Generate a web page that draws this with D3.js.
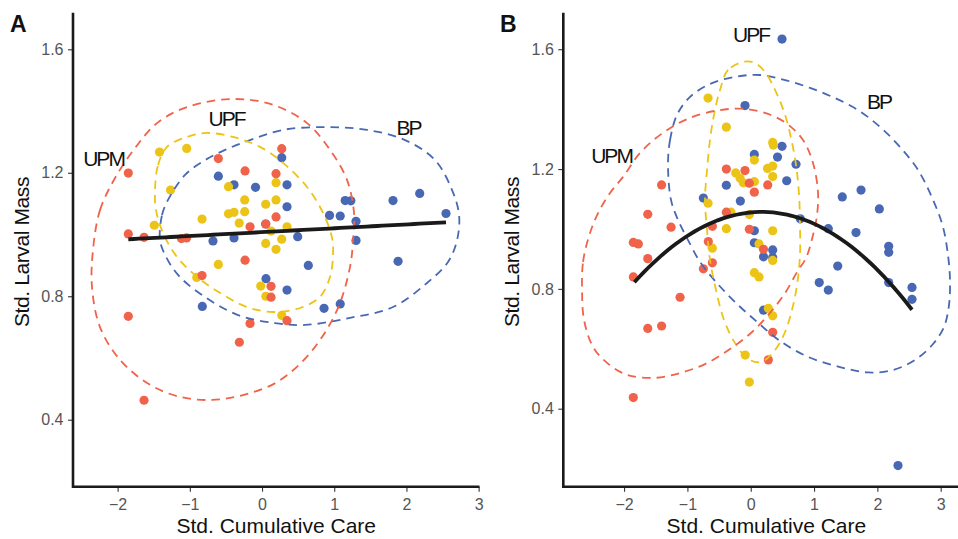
<!DOCTYPE html>
<html><head><meta charset="utf-8">
<script src="https://cdn.jsdelivr.net/npm/d3@7"></script>
<style>body{margin:0;background:#fff}svg{display:block}</style>
</head><body><svg id="c" width="958" height="539"></svg>
<script>
// ---------- data ----------
const groups = ["BP", "UPF", "UPM"];
const groupColors = { BP: "#4968B4", UPF: "#ECC417", UPM: "#F0634A" };
const xTicks = [-2, -1, 0, 1, 2, 3];
const yTicks = [0.4, 0.8, 1.2, 1.6];
const xTitle = "Std. Cumulative Care";
const yTitle = "Std. Larval Mass";

// Panel A points [care, mass]
const aUPM = [[-1.852,1.199],[-0.605,1.246],[0.273,1.278],[-0.235,1.206],[0.194,1.197],[0.194,1.057],[-0.166,1.025],[0.051,1.034],[-1.852,1.002],[-1.634,0.991],[-1.115,0.987],[-1.046,0.989],[-0.235,0.917],[-0.831,0.867],[0.125,0.832],[0.125,0.797],[-1.852,0.735],[-0.166,0.712],[0.346,0.721],[-0.314,0.651],[-1.634,0.463]];
const aUPF = [[-1.420,1.267],[-1.043,1.279],[-1.267,1.144],[-0.464,1.155],[0.194,1.168],[-0.240,1.112],[0.051,1.098],[0.194,1.112],[-0.464,1.067],[-0.388,1.072],[-0.240,1.074],[-0.831,1.050],[-0.316,1.037],[-1.492,1.030],[0.346,1.025],[0.125,1.011],[0.273,0.985],[0.051,0.971],[0.194,0.952],[-0.605,0.903],[-0.904,0.861],[-0.018,0.833],[0.053,0.800],[0.274,0.738]];
const aBP = [[0.273,1.249],[-0.605,1.189],[-0.388,1.161],[-0.090,1.153],[0.346,1.161],[0.346,1.090],[0.051,1.034],[0.935,1.062],[1.083,1.060],[1.152,1.110],[1.230,1.109],[1.302,1.043],[1.302,0.981],[1.814,1.110],[2.184,1.133],[2.548,1.068],[-0.679,0.979],[-0.388,0.989],[0.494,0.993],[0.641,0.900],[1.884,0.913],[0.055,0.857],[0.346,0.820],[-0.827,0.767],[0.859,0.761],[1.083,0.775]];
const aFit = [1.0077, 0.0125];          // intercept, slope
const aFitRange = [-1.852, 2.548];

// Panel A group ellipse outlines [care, mass]
const aEllUPM = [[-2.341,0.950],[-2.244,1.079],[-2.036,1.183],[-1.759,1.280],[-1.454,1.361],[-1.039,1.413],[-0.402,1.439],[0.152,1.420],[0.623,1.361],[0.942,1.274],[1.177,1.177],[1.274,1.070],[1.260,0.982],[1.219,0.895],[1.039,0.755],[0.665,0.616],[0.208,0.522],[-0.263,0.480],[-0.693,0.464],[-1.136,0.474],[-1.551,0.513],[-1.967,0.594],[-2.244,0.700],[-2.355,0.830]];
const aEllUPF = [[-1.482,1.144],[-1.440,1.225],[-1.316,1.284],[-1.039,1.316],[-0.762,1.329],[-0.402,1.316],[-0.028,1.284],[0.291,1.232],[0.623,1.154],[0.845,1.070],[0.970,0.989],[0.983,0.934],[0.942,0.863],[0.803,0.798],[0.526,0.762],[0.152,0.749],[-0.208,0.765],[-0.582,0.811],[-0.900,0.863],[-1.177,0.927],[-1.371,1.005],[-1.468,1.079]];
const aEllBP = [[-1.413,0.982],[-1.385,1.063],[-1.302,1.112],[-1.066,1.193],[-0.789,1.241],[-0.512,1.274],[-0.166,1.306],[0.291,1.339],[0.900,1.348],[1.454,1.339],[1.981,1.306],[2.396,1.241],[2.632,1.144],[2.729,1.063],[2.701,0.982],[2.576,0.911],[2.285,0.843],[1.814,0.765],[1.219,0.730],[0.596,0.707],[0.180,0.713],[-0.332,0.739],[-0.831,0.804],[-1.163,0.869],[-1.343,0.934]];
const aLabels = [["UPM",-2.195,1.248],["UPF",-0.492,1.376],["BP",2.029,1.348]];

// Panel B points [care, mass]
const bUPM = [[-0.385,1.200],[-0.090,1.195],[-0.022,1.153],[0.057,1.123],[0.268,1.147],[-1.408,1.147],[-1.626,1.049],[-1.258,1.006],[-0.385,1.056],[-0.606,1.009],[-0.022,0.999],[-1.854,0.955],[-1.775,0.950],[-0.670,0.958],[0.202,0.932],[-1.626,0.901],[-0.606,0.887],[-0.748,0.867],[-1.854,0.840],[-1.116,0.772],[-1.626,0.668],[-1.408,0.676],[0.347,0.655],[0.278,0.563],[-1.854,0.437]];
const bUPF = [[-0.674,1.437],[-0.385,1.340],[0.347,1.289],[0.357,1.280],[0.057,1.230],[-0.237,1.187],[-0.169,1.170],[-0.117,1.154],[0.057,1.158],[0.265,1.202],[0.347,1.210],[0.347,1.175],[-0.674,1.086],[-0.311,1.056],[-0.022,1.048],[-0.385,1.001],[0.347,0.994],[-0.606,0.936],[0.131,0.950],[0.347,0.895],[0.057,0.854],[0.131,0.840],[0.278,0.735],[0.347,0.710],[-0.087,0.579],[-0.022,0.489]];
const bBP = [[0.494,1.634],[-0.090,1.412],[0.494,1.276],[0.057,1.249],[0.423,1.240],[0.715,1.216],[0.568,1.161],[-0.385,1.146],[-0.748,1.103],[-0.164,1.093],[0.783,1.034],[1.446,1.107],[1.742,1.130],[2.031,1.067],[1.225,1.001],[1.663,0.988],[0.057,0.994],[0.057,0.954],[0.202,0.907],[0.347,0.930],[0.347,0.905],[2.179,0.942],[2.179,0.922],[1.374,0.876],[1.082,0.821],[1.225,0.796],[2.179,0.821],[2.547,0.805],[2.547,0.765],[0.202,0.729],[2.326,0.210]];
const bFit = [1.0552, 0.0202, -0.058];  // a + b*x + c*x^2
const bFitRange = [-1.838, 2.547];

// Panel B group outlines [care, mass]
const bEllUPM = [[-2.664,0.796],[-2.648,0.890],[-2.553,0.977],[-2.411,1.053],[-2.222,1.120],[-2.016,1.174],[-1.748,1.254],[-1.385,1.321],[-0.958,1.371],[-0.485,1.397],[-0.090,1.401],[0.273,1.384],[0.573,1.351],[0.826,1.297],[0.984,1.220],[1.063,1.120],[1.047,1.047],[0.984,0.980],[0.873,0.903],[0.731,0.856],[0.542,0.786],[0.305,0.720],[0.021,0.656],[-0.327,0.599],[-0.722,0.549],[-1.116,0.519],[-1.511,0.503],[-1.953,0.513],[-2.269,0.553],[-2.490,0.606],[-2.632,0.696]];
const bEllUPF = [[-0.090,1.559],[-0.358,1.531],[-0.485,1.464],[-0.580,1.381],[-0.643,1.297],[-0.690,1.197],[-0.722,1.097],[-0.690,0.997],[-0.643,0.897],[-0.548,0.796],[-0.422,0.696],[-0.248,0.619],[-0.043,0.566],[0.163,0.556],[0.384,0.596],[0.542,0.656],[0.652,0.730],[0.731,0.813],[0.778,0.913],[0.778,1.013],[0.763,1.114],[0.715,1.214],[0.636,1.304],[0.542,1.381],[0.400,1.457],[0.226,1.524],[0.068,1.554]];
const bEllBP = [[-1.306,1.214],[-1.274,1.297],[-1.164,1.381],[-0.958,1.441],[-0.643,1.484],[-0.248,1.508],[0.147,1.514],[0.542,1.497],[0.936,1.471],[1.331,1.437],[1.695,1.397],[2.041,1.341],[2.357,1.274],[2.642,1.197],[2.879,1.097],[3.036,1.007],[3.115,0.913],[3.147,0.830],[3.131,0.746],[3.052,0.673],[2.879,0.616],[2.595,0.563],[2.247,0.529],[1.852,0.521],[1.410,0.539],[0.905,0.573],[0.463,0.626],[0.099,0.690],[-0.248,0.756],[-0.548,0.823],[-0.801,0.890],[-0.990,0.963],[-1.148,1.030],[-1.259,1.097]];
const bLabels = [["UPM",-2.198,1.247],["UPF",0.005,1.648],["BP",2.026,1.427]];

// ---------- drawing ----------
const svg = d3.select("#c");
const FONT = "'Liberation Sans', Arial, Helvetica, sans-serif";

const panels = [
  { tag: "A", ox: 0, left: 73, right: 479.5, xDom: [-2.618, 3.012], yDom: [0.183, 1.7186],
    pts: { BP: aBP, UPF: aUPF, UPM: aUPM }, ell: { BP: aEllBP, UPF: aEllUPF, UPM: aEllUPM },
    labels: aLabels, fit: x => aFit[0] + aFit[1] * x, fitRange: aFitRange },
  { tag: "B", ox: 490, left: 563.3, right: 969.5, xDom: [-2.96, 3.455], yDom: [0.1396, 1.722],
    pts: { BP: bBP, UPF: bUPF, UPM: bUPM }, ell: { BP: bEllBP, UPF: bEllUPF, UPM: bEllUPM },
    labels: bLabels, fit: x => bFit[0] + bFit[1] * x + bFit[2] * x * x, fitRange: bFitRange }
];
const plotTop = 12.7, plotBottom = 486.7;

panels.forEach(p => {
  const x = d3.scaleLinear().domain(p.xDom).range([p.left, p.right]);
  const y = d3.scaleLinear().domain(p.yDom).range([plotBottom, plotTop]);
  const g = svg.append("g");

  // axes
  const xa = g.append("g").attr("transform", `translate(0,${plotBottom})`)
    .call(d3.axisBottom(x).tickValues(xTicks).tickSize(5).tickSizeOuter(0).tickPadding(6.5).tickFormat(d3.format("d")));
  const ya = g.append("g").attr("transform", `translate(${p.left},0)`)
    .call(d3.axisLeft(y).tickValues(yTicks).tickSize(5).tickSizeOuter(0).tickPadding(4.5).tickFormat(d3.format(".1f")));
  [xa, ya].forEach(a => {
    a.select(".domain").remove();
    a.selectAll(".tick line").attr("stroke", "#333").attr("stroke-width", 1.1);
    a.selectAll(".tick text").attr("fill", "#555").style("font-family", FONT).style("font-size", "16px");
  });
  g.append("line").attr("x1", p.left).attr("x2", p.right).attr("y1", plotBottom).attr("y2", plotBottom)
    .attr("stroke", "#1a1a1a").attr("stroke-width", 2.6);
  g.append("line").attr("x1", p.left).attr("x2", p.left).attr("y1", plotTop).attr("y2", plotBottom + 1.3)
    .attr("stroke", "#1a1a1a").attr("stroke-width", 2.6);

  // points
  groups.forEach(k => {
    g.append("g").selectAll("circle").data(p.pts[k]).join("circle")
      .attr("cx", d => x(d[0])).attr("cy", d => y(d[1])).attr("r", 4.6)
      .attr("fill", groupColors[k]);
  });

  // group outlines
  const line = d3.line().x(d => x(d[0])).y(d => y(d[1])).curve(d3.curveCatmullRomClosed.alpha(0.5));
  groups.forEach(k => {
    g.append("path").attr("d", line(p.ell[k])).attr("fill", "none")
      .attr("stroke", groupColors[k]).attr("stroke-width", 1.8).attr("stroke-dasharray", "8.5,6");
  });

  // fitted line
  const n = 60, xs = d3.range(n + 1).map(i => p.fitRange[0] + (p.fitRange[1] - p.fitRange[0]) * i / n);
  g.append("path").attr("d", d3.line().x(d => x(d)).y(d => y(p.fit(d)))(xs))
    .attr("fill", "none").attr("stroke", "#1a1a1a").attr("stroke-width", 3.8);

  // group labels
  g.selectAll("text.lab").data(p.labels).join("text").attr("class", "lab")
    .attr("x", d => x(d[1])).attr("y", d => y(d[2])).attr("dy", "0.36em")
    .attr("text-anchor", "middle").style("font-family", FONT).style("font-size", "21px")
    .style("letter-spacing", "-2px").attr("fill", "#111").text(d => d[0]);

  // titles
  g.append("text").attr("x", (p.left + p.right) / 2).attr("y", 533).attr("text-anchor", "middle")
    .style("font-family", FONT).style("font-size", "21px").attr("fill", "#111").text(xTitle);
  g.append("text").attr("transform", `translate(${28.5 + p.ox},252) rotate(-90)`).attr("text-anchor", "middle")
    .style("font-family", FONT).style("font-size", "21px").style("letter-spacing", "-0.4px").attr("fill", "#111").text(yTitle);
  g.append("text").attr("x", 10 + p.ox).attr("y", 32).style("font-family", FONT)
    .style("font-size", "23px").style("font-weight", "bold").attr("fill", "#111").text(p.tag);
});
</script></body></html>
